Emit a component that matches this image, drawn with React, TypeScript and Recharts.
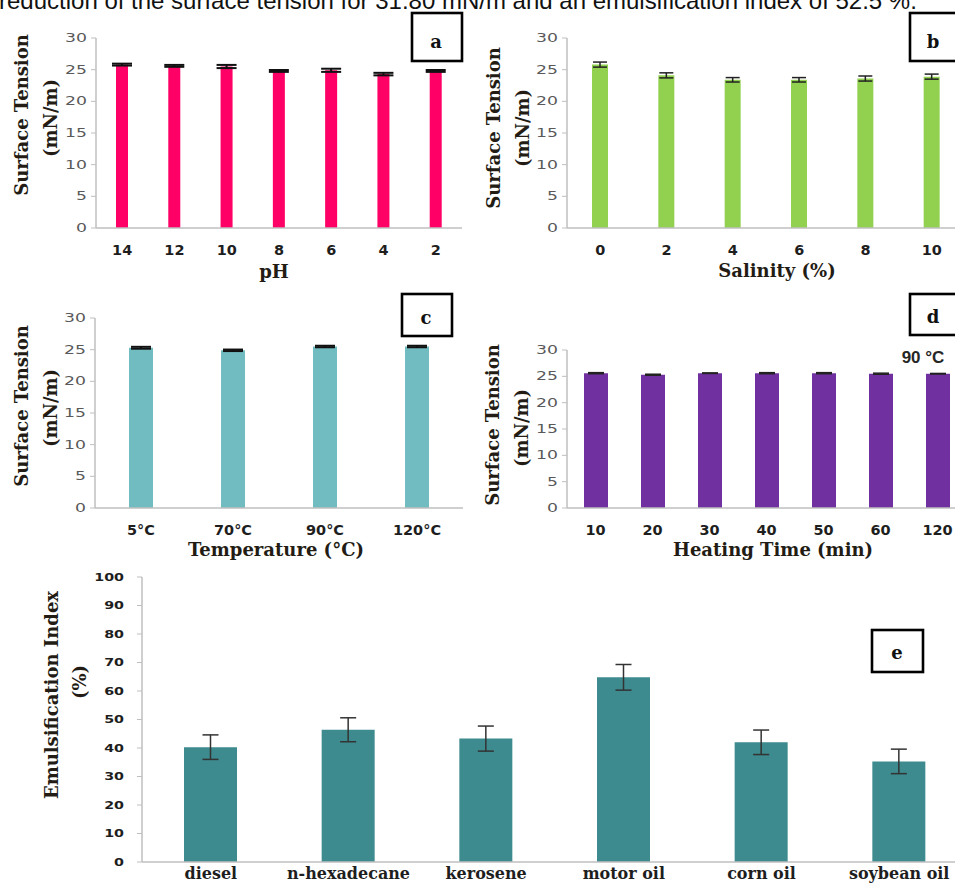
import { Bar, BarChart, ErrorBar, XAxis, YAxis } from "recharts";

// panel a: pH
const phLabels = ["14", "12", "10", "8", "6", "4", "2"];
const phTension = [25.8, 25.6, 25.5, 24.8, 24.9, 24.3, 24.8];
const phError = [0.15, 0.15, 0.25, 0.15, 0.25, 0.2, 0.15];

// panel b: salinity
const salinityLabels = ["0", "2", "4", "6", "8", "10"];
const salinityTension = [25.8, 24.1, 23.4, 23.4, 23.6, 23.9];
const salinityError = [0.4, 0.4, 0.35, 0.35, 0.4, 0.4];

// panel c: temperature
const tempLabels = ["5°C", "70°C", "90°C", "120°C"];
const tempTension = [25.3, 24.9, 25.5, 25.5];
const tempError = [0.15, 0.12, 0.12, 0.12];

// panel d: heating time at 90 °C
const timeLabels = ["10", "20", "30", "40", "50", "60", "120"];
const timeTension = [25.6, 25.3, 25.6, 25.6, 25.6, 25.5, 25.5];
const timeError = [0.1, 0.1, 0.05, 0.1, 0.1, 0.1, 0.05];

// panel e: emulsification index
const oilLabels = ["diesel", "n-hexadecane", "kerosene", "motor oil", "corn oil", "soybean oil"];
const emulsification = [40.3, 46.4, 43.3, 64.8, 42.0, 35.3];
const emulsificationError = [4.3, 4.2, 4.4, 4.5, 4.3, 4.3];

const tensionTicks = [0, 5, 10, 15, 20, 25, 30];
const indexTicks = [0, 10, 20, 30, 40, 50, 60, 70, 80, 90, 100];

const toRows = (names: string[], values: number[], errors: number[]) =>
  names.map((name, i) => ({ name, value: values[i], err: errors[i] }));

const SERIF = "'DejaVu Serif', serif";
const SANS = "'DejaVu Sans', sans-serif";
const TITLE = "#231c14";
const AXIS = "#bfbfbf";

type Box = { left: number; top: number; right: number; bottom: number };

interface PanelProps {
  rows: { name: string; value: number; err: number }[];
  box: Box;
  color: string;
  barSize: number;
  ticks: number[];
  max: number;
  yTickStyle: { fill: string; size: number; weight: number; sx: number; margin: number };
  xTickStyle: { family: string; size: number; weight: number; sx: number; dy: number };
  errStroke: string;
  errWidth: number;
  errCap: number;
}

const Panel = ({
  rows,
  box,
  color,
  barSize,
  ticks,
  max,
  yTickStyle,
  xTickStyle,
  errStroke,
  errWidth,
  errCap,
}: PanelProps) => {
  const yw = 60;
  const width = box.right - box.left + yw + 10;
  const height = box.bottom - box.top + 10 + 30;
  return (
    <div style={{ position: "absolute", left: box.left - yw, top: box.top - 10 }}>
      <BarChart
        width={width}
        height={height}
        data={rows}
        margin={{ top: 10, right: 10, left: 0, bottom: 0 }}
        barCategoryGap={0}
      >
        <XAxis
          dataKey="name"
          height={30}
          interval={0}
          tickLine={false}
          tickSize={0}
          tickMargin={0}
          axisLine={{ stroke: AXIS, strokeWidth: 1.5 }}
          tick={(p: any) => (
            <g transform={`translate(${p.x},${p.y + xTickStyle.dy})`}>
              <text
                transform={`scale(${xTickStyle.sx},1)`}
                textAnchor="middle"
                fill="#1e1e1e"
                fontSize={xTickStyle.size}
                fontWeight={xTickStyle.weight}
                fontFamily={xTickStyle.family}
              >
                {p.payload.value}
              </text>
            </g>
          )}
        />
        <YAxis
          width={yw}
          domain={[0, max]}
          ticks={ticks}
          interval={0}
          tickSize={5}
          tickMargin={yTickStyle.margin}
          axisLine={{ stroke: AXIS, strokeWidth: 1.5 }}
          tickLine={{ stroke: AXIS }}
          tick={(p: any) => (
            <g transform={`translate(${p.x},${p.y})`}>
              <text
                transform={`scale(${yTickStyle.sx},1)`}
                textAnchor="end"
                dy="0.36em"
                fill={yTickStyle.fill}
                fontSize={yTickStyle.size}
                fontWeight={yTickStyle.weight}
                fontFamily={SANS}
              >
                {p.payload.value}
              </text>
            </g>
          )}
        />
        <Bar dataKey="value" fill={color} barSize={barSize} isAnimationActive={false}>
          <ErrorBar
            dataKey="err"
            direction="y"
            width={errCap}
            stroke={errStroke}
            strokeWidth={errWidth}
            isAnimationActive={false}
          />
        </Bar>
      </BarChart>
    </div>
  );
};

const greyY = { fill: "#595959", size: 11.5, weight: 400, sx: 1.5, margin: 4 };
const boldX = { family: SANS, size: 13.8, weight: 700, sx: 1.05, dy: 27 };

const VTitle = ({ x, y, text }: { x: number; y: number; text: string }) => (
  <text
    transform={`translate(${x},${y}) rotate(-90)`}
    textAnchor="middle"
    dominantBaseline="central"
    fontFamily={SERIF}
    fontWeight={700}
    fontSize={18}
    fill={TITLE}
  >
    {text}
  </text>
);

const HTitle = ({ x, y, text }: { x: number; y: number; text: string }) => (
  <text x={x} y={y} textAnchor="middle" fontFamily={SERIF} fontWeight={700} fontSize={18} fill={TITLE}>
    {text}
  </text>
);

const TagBox = ({ b, label, lx, ly }: { b: Box; label: string; lx: number; ly: number }) => (
  <g>
    <rect x={b.left} y={b.top} width={b.right - b.left} height={b.bottom - b.top} fill="#fff" stroke="#000" strokeWidth={2.6} />
    <text x={lx} y={ly} textAnchor="middle" dominantBaseline="central" fontFamily={SERIF} fontWeight={700} fontSize={18} fill="#111">
      {label}
    </text>
  </g>
);

export default function App() {
  return (
    <div
      style={{
        position: "absolute",
        left: 0,
        top: 0,
        width: 955,
        height: 883,
        overflow: "hidden",
        background: "#fff",
      }}
    >
      <Panel
        rows={toRows(phLabels, phTension, phError)}
        box={{ left: 96, top: 38, right: 462, bottom: 228 }}
        color="#ff0066"
        barSize={12}
        ticks={tensionTicks}
        max={30}
        yTickStyle={greyY}
        xTickStyle={boldX}
        errStroke="#111"
        errWidth={2}
        errCap={10}
      />
      <Panel
        rows={toRows(salinityLabels, salinityTension, salinityError)}
        box={{ left: 567, top: 38, right: 965, bottom: 228 }}
        color="#92d050"
        barSize={16}
        ticks={tensionTicks}
        max={30}
        yTickStyle={greyY}
        xTickStyle={boldX}
        errStroke="#222"
        errWidth={1.5}
        errCap={7}
      />
      <Panel
        rows={toRows(tempLabels, tempTension, tempError)}
        box={{ left: 95, top: 318, right: 463, bottom: 508 }}
        color="#71bcc1"
        barSize={24}
        ticks={tensionTicks}
        max={30}
        yTickStyle={greyY}
        xTickStyle={boldX}
        errStroke="#111"
        errWidth={2}
        errCap={10}
      />
      <Panel
        rows={toRows(timeLabels, timeTension, timeError)}
        box={{ left: 567, top: 350, right: 966, bottom: 508 }}
        color="#7030a0"
        barSize={24}
        ticks={tensionTicks}
        max={30}
        yTickStyle={greyY}
        xTickStyle={boldX}
        errStroke="#222"
        errWidth={1.5}
        errCap={8}
      />
      <Panel
        rows={toRows(oilLabels, emulsification, emulsificationError)}
        box={{ left: 142, top: 577, right: 968, bottom: 862 }}
        color="#3d8a8f"
        barSize={53}
        ticks={indexTicks}
        max={100}
        yTickStyle={{ fill: "#1e1e1e", size: 10.5, weight: 700, sx: 1.36, margin: 13 }}
        xTickStyle={{ family: SERIF, size: 17, weight: 700, sx: 0.94, dy: 17 }}
        errStroke="#333"
        errWidth={1.5}
        errCap={8}
      />
      <svg
        width={955}
        height={883}
        style={{ position: "absolute", left: 0, top: 0, pointerEvents: "none" }}
      >
        <text x={-1} y={9} fontFamily="'Liberation Sans', Arial, sans-serif" fontSize={24} fill="#111">
          reduction of the surface tension for 31.80 mN/m and an emulsification index of 52.5 %.
        </text>

        <VTitle x={21} y={115} text="Surface Tension" />
        <VTitle x={50} y={118} text="(mN/m)" />
        <HTitle x={274} y={278} text="pH" />
        <TagBox b={{ left: 412, top: 13, right: 462, bottom: 61 }} label="a" lx={436} ly={41} />

        <VTitle x={493} y={128} text="Surface Tension" />
        <VTitle x={522} y={128} text="(mN/m)" />
        <HTitle x={777} y={277} text="Salinity (%)" />
        <TagBox b={{ left: 910, top: 13, right: 966, bottom: 61 }} label="b" lx={933} ly={41} />

        <VTitle x={21} y={406} text="Surface Tension" />
        <VTitle x={50} y={408} text="(mN/m)" />
        <HTitle x={276} y={556} text="Temperature  (°C)" />
        <TagBox b={{ left: 402, top: 294, right: 452, bottom: 336 }} label="c" lx={426} ly={317} />

        <VTitle x={492} y={425} text="Surface Tension" />
        <VTitle x={521} y={428} text="(mN/m)" />
        <HTitle x={773} y={556} text="Heating Time (min)" />
        <TagBox b={{ left: 910, top: 294, right: 966, bottom: 335 }} label="d" lx={933} ly={316} />
        <text x={923} y={363} textAnchor="middle" fontFamily="'Liberation Sans', Arial, sans-serif" fontWeight={700} fontSize={17} fill="#262626">
          90 °C
        </text>

        <VTitle x={51} y={695} text="Emulsification  Index" />
        <VTitle x={79} y={682} text="(%)" />
        <TagBox b={{ left: 872, top: 630, right: 923, bottom: 672 }} label="e" lx={897} ly={652} />
      </svg>
    </div>
  );
}
